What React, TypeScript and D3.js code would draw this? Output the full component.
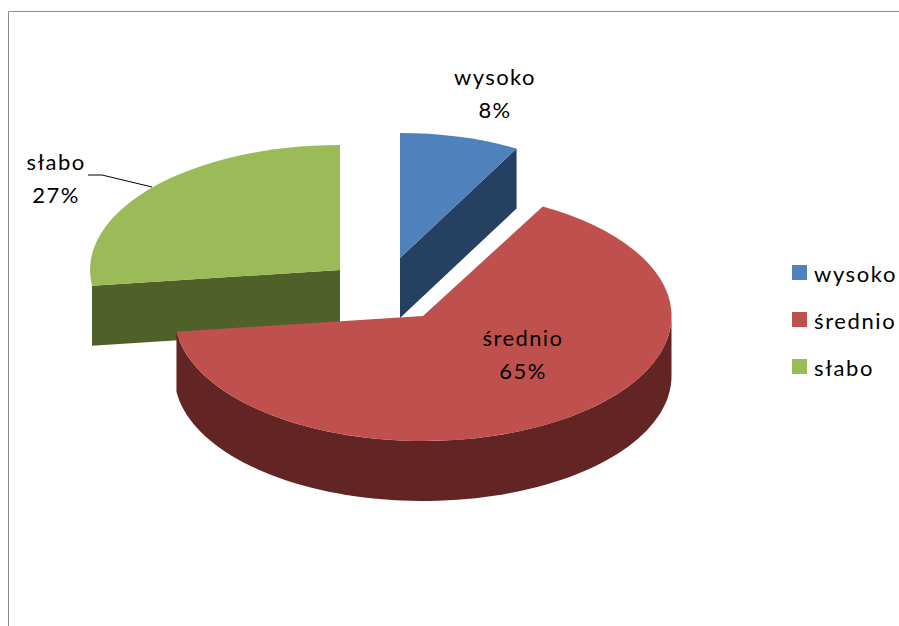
import React from "react";
import * as d3 from "d3";

const categories = ["wysoko", "średnio", "słabo"];
const shares = [8, 65, 27];
const topColors = ["#4F81BD", "#C0504D", "#9BBB59"];
const sideColors = ["#254061", "#632523", "#4F6128"];

const W = 899, H = 626, RY = 125, DEPTH = 60;
const radiiX = [242, 248.5, 250];
const centers = [[400, 258], [423, 316], [340, 270]];
const FONT = "Lato, 'Open Sans', sans-serif";

const pie = d3.pie<number>().sort(null)(shares);
const arc = d3.arc<any>().innerRadius(0).outerRadius(1);
const px = (i: number, a: number) => centers[i][0] + radiiX[i] * Math.sin(a);
const py = (i: number, a: number) => centers[i][1] - RY * Math.cos(a);

// walls of the extruded slices
function outerWall(i: number, a0: number, a1: number) {
  const n = 80;
  const as = d3.range(n + 1).map((k) => a0 + ((a1 - a0) * k) / n);
  const pts: [number, number][] = [
    ...as.map((a) => [px(i, a), py(i, a)] as [number, number]),
    ...as.slice().reverse().map((a) => [px(i, a), py(i, a) + DEPTH] as [number, number]),
  ];
  return d3.line()(pts) + "Z";
}
function cutWall(i: number, a: number) {
  const [cx, cy] = centers[i];
  const pts: [number, number][] = [
    [cx, cy], [px(i, a), py(i, a)], [px(i, a), py(i, a) + DEPTH], [cx, cy + DEPTH],
  ];
  return d3.line()(pts) + "Z";
}

const Label = ({ x, y, lines }: { x: number; y: number; lines: string[] }) => (
  <text fontFamily={FONT} fontSize={22} fill="#000" textAnchor="middle" letterSpacing={1.4}>
    {lines.map((l, i) => (
      <tspan key={i} x={x} y={y + i * 33}>{l}</tspan>
    ))}
  </text>
);

const Top = ({ i }: { i: number }) => (
  <g transform={`translate(${centers[i][0]},${centers[i][1]}) scale(${radiiX[i]},${RY})`}>
    <path d={arc(pie[i]) as string} fill={topColors[i]} />
  </g>
);

export default function App() {
  return (
    <svg width={W} height={H} style={{ position: "absolute", left: 0, top: 0 }}>
      <rect width={W} height={H} fill="#fff" />
      <path d={`M8.5 ${H}V11.5H${W}`} fill="none" stroke="#8c8c8c" strokeWidth={1} />

      <path d={cutWall(0, pie[0].endAngle)} fill={sideColors[0]} />
      <Top i={0} />
      <path d={cutWall(2, pie[2].startAngle)} fill={sideColors[2]} />
      <Top i={2} />
      <path d={outerWall(1, Math.PI / 2, pie[1].endAngle)} fill={sideColors[1]} />
      <Top i={1} />

      <path d="M88 175H102L152 187" fill="none" stroke="#000" strokeWidth={1} />
      <Label x={495} y={85} lines={[categories[0], shares[0] + "%"]} />
      <Label x={523} y={346} lines={[categories[1], shares[1] + "%"]} />
      <Label x={56} y={170} lines={[categories[2], shares[2] + "%"]} />

      {categories.map((c, i) => (
        <g key={c}>
          <rect x={792} y={265 + i * 47} width={15} height={15} fill={topColors[i]} />
          <text x={814} y={282 + i * 47} fontFamily={FONT} fontSize={22} letterSpacing={1.6} fill="#000">{c}</text>
        </g>
      ))}
    </svg>
  );
}
